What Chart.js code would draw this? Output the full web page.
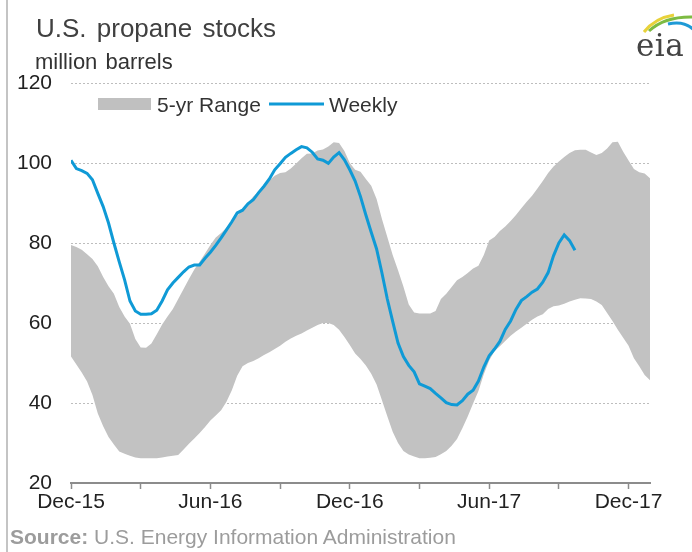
<!DOCTYPE html>
<html>
<head>
<meta charset="utf-8">
<script src="https://cdn.jsdelivr.net/npm/chart.js@4/dist/chart.umd.min.js"></script>
<style>
  html, body { margin: 0; padding: 0; background: #fff; }
  #wrap { position: relative; width: 692px; height: 552px; overflow: hidden; }
  #wrap canvas, #wrap svg { position: absolute; left: 0; top: 0; }
  svg text { font-family: "Liberation Sans", Arial, sans-serif; }
</style>
</head>
<body>
<div id="wrap">
  <canvas id="chart" width="692" height="552"></canvas>
  <svg width="692" height="552" xmlns="http://www.w3.org/2000/svg">
    <line x1="7" y1="0" x2="7" y2="552" stroke="#c4c4c4" stroke-width="2"/>
    <text x="36" y="37" font-size="26" fill="#404040" word-spacing="3">U.S. propane stocks</text>
    <text x="35" y="69" font-size="22" fill="#333" word-spacing="2">million barrels</text>

    <rect x="98" y="98" width="53" height="12" fill="#c0c0c0"/>
    <text x="157" y="112" font-size="21" fill="#333">5-yr Range</text>
    <line x1="269" y1="104" x2="324" y2="104" stroke="#0f9ad6" stroke-width="3"/>
    <text x="329" y="112" font-size="21" fill="#333">Weekly</text>

    <text x="10" y="544" font-size="21" fill="#9c9c9c"><tspan font-weight="bold">Source:</tspan> U.S. Energy Information Administration</text>

    <path d="M644 32 Q655 18 674 15" stroke="#e8d23a" stroke-width="3" fill="none"/>
    <path d="M649 31 Q665 16 694 17" stroke="#7dbb42" stroke-width="3" fill="none"/>
    <path d="M668 24 Q685 20 695 31" stroke="#1f9ad6" stroke-width="3" fill="none"/>
    <text x="636" y="56" font-size="31" fill="#444" letter-spacing="0.5" style="font-family:'DejaVu Serif',serif">eia</text>
  </svg>
</div>
<script>
// 5-year range (max / min) and weekly stocks, million barrels, one value per week from Dec-15
const rangeMax = [79.5, 79, 78.3, 77.2, 76, 74.2, 71.5, 69.2, 67.3, 64,
  61.6, 59.8, 56, 53.9, 53.8, 54.9, 57.2, 59.6, 61.6, 63.5,
  66, 68.5, 71, 73.4, 75.3, 77.4, 79.5, 81.4, 82.5, 83.8,
  85.3, 86.8, 88.4, 90, 91.6, 92.9, 94.2, 95.7, 96.8, 97.5,
  97.7, 98.6, 99.9, 101.2, 102.3, 102.4, 103.1, 103.4, 104.1, 105.2,
  105, 103, 100, 98.3, 97.8, 96, 94.3, 91, 86, 81.5,
  77, 73.2, 69.1, 64.6, 62.6, 62.4, 62.4, 62.4, 63, 66,
  67.3, 69, 70.7, 71.5, 72.5, 73.6, 74.3, 77, 80.6, 81.5,
  83, 84.1, 85.5, 87, 88.7, 90.3, 91.8, 93.6, 95.5, 97.5,
  99.1, 100.4, 101.5, 102.5, 103.2, 103.3, 103.3, 102.6, 102, 102.5,
  103.6, 105.2, 105.3, 102.8, 100.6, 98.5, 97.7, 97.4, 96.2];

const rangeMin = [51.6, 49.6, 47.6, 45.4, 42, 37.4, 34.2, 31.5, 29.6, 27.9,
  27.3, 26.8, 26.4, 26.2, 26.2, 26.2, 26.2, 26.4, 26.6, 26.8,
  27, 28.4, 29.8, 31.1, 32.5, 34, 35.6, 36.9, 38.2, 40.3,
  43.2, 46.8, 49.2, 50, 50.5, 51.2, 52, 52.7, 53.5, 54.3,
  55.3, 56.1, 56.8, 57.4, 58.1, 58.8, 59.5, 60, 60, 59.5,
  58.3, 56.5, 54.5, 52.4, 51, 49.4, 47.3, 44.6, 40.7, 36.7,
  32.8, 30, 28, 27.1, 26.6, 26.2, 26.2, 26.3, 26.5, 27.2,
  28, 29.3, 31, 33.7, 36.6, 39.9, 43, 47.2, 50.6, 53,
  54.2, 55.5, 56.8, 57.9, 58.8, 59.8, 60.8, 61.6, 62.2, 63.5,
  64.2, 64.4, 64.8, 65.4, 65.8, 66.2, 66.1, 66, 65.4, 64.5,
  62.5, 60.5, 58.3, 56.3, 54.3, 51.2, 49.2, 47, 45.7];

const weekly = [100.7, 98.6, 98.1, 97.4, 95.8, 92.4, 89.1, 85, 80, 75.3,
  70.8, 65.5, 63, 62.2, 62.2, 62.3, 63.2, 65.5, 68.3, 70,
  71.4, 72.8, 74, 74.5, 74.5, 76.2, 77.7, 79.4, 81.3, 83.3,
  85.3, 87.5, 88.2, 89.8, 90.8, 92.6, 94.2, 96, 98.3, 99.8,
  101.4, 102.4, 103.3, 104.1, 103.8, 102.7, 101, 100.7, 99.9, 101.5,
  102.6, 100.8, 98.3, 95.5, 91.6, 87, 82.7, 78.5, 72.5, 66,
  60.4, 55, 51.6, 49.4, 47.8, 44.8, 44.2, 43.6, 42.4, 41.3,
  40.1, 39.6, 39.5, 40.6, 42.2, 43.2, 45.5, 49, 51.8, 53.5,
  55.4, 58.4, 60.5, 63.4, 65.6, 66.6, 67.7, 68.5, 70.2, 72.6,
  76.8, 80, 82, 80.6, 78.2];

// x axis: week number from Dec-15, a tick every quarter (13 weeks)
const xTickWeeks = [0, 26, 52, 78, 104];
const xTickLabels = ['Dec-15', 'Jun-16', 'Dec-16', 'Jun-17', 'Dec-17'];
const lastWeek = 108;

const toPoints = arr => arr.map((v, i) => ({ x: i, y: v }));

new Chart(document.getElementById('chart'), {
  type: 'line',
  data: {
    datasets: [
      {
        label: 'Weekly',
        data: toPoints(weekly),
        borderColor: '#0f9ad6',
        borderWidth: 3,
        pointRadius: 0,
        fill: false
      },
      {
        label: '5-yr Range',
        data: toPoints(rangeMax),
        borderWidth: 0,
        borderColor: 'rgba(0,0,0,0)',
        backgroundColor: '#c2c2c2',
        pointRadius: 0,
        fill: '+1'
      },
      {
        label: 'min',
        data: toPoints(rangeMin),
        borderWidth: 0,
        borderColor: 'rgba(0,0,0,0)',
        pointRadius: 0,
        fill: false
      }
    ]
  },
  options: {
    responsive: false,
    animation: false,
    devicePixelRatio: 1,
    layout: { padding: { left: 0, top: 83, right: 42, bottom: 29 } },
    plugins: { legend: { display: false }, tooltip: { enabled: false } },
    elements: { line: { tension: 0 } },
    scales: {
      x: {
        type: 'linear',
        min: 0,
        max: lastWeek,
        afterFit: s => { s.height = 40; },
        grid: { drawOnChartArea: false, drawTicks: true, tickLength: 6, tickColor: '#8c8c8c', tickWidth: 1.5 },
        border: { display: true, color: '#8c8c8c', width: 2 },
        ticks: {
          stepSize: 13,
          includeBounds: false,
          autoSkip: false,
          maxRotation: 0,
          padding: 1,
          color: '#222',
          font: { family: 'Liberation Sans, Arial, sans-serif', size: 21 },
          callback: v => {
            const k = xTickWeeks.indexOf(v);
            return k >= 0 ? xTickLabels[k] : '';
          }
        }
      },
      y: {
        min: 20,
        max: 120,
        afterFit: s => { s.width = 71; },
        grid: { color: '#bdbdbd', lineWidth: 1, drawTicks: false },
        border: { display: false, dash: [2, 2] },
        ticks: {
          stepSize: 20,
          padding: 19,
          color: '#222',
          font: { family: 'Liberation Sans, Arial, sans-serif', size: 21 }
        }
      }
    }
  }
});
</script>
</body>
</html>
